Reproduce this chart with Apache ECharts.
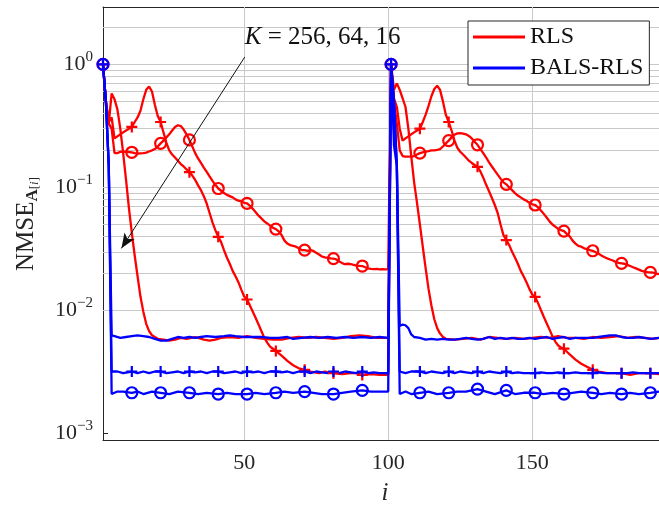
<!DOCTYPE html>
<html><head><meta charset="utf-8">
<script src="https://cdn.jsdelivr.net/npm/echarts@6/dist/echarts.min.js"></script>
<style>html,body{margin:0;padding:0;background:#fff;}#c{width:659px;height:508px;}</style>
</head><body><div id="c"></div>
<script>
// ---------------- data ----------------
const legendNames = ['RLS', 'BALS-RLS'];
const xTickValues = [50, 100, 150];
const annotationLabel = 'K = 256, 64, 16';
// arrow of the annotation, in data units: [i, NMSE]
const arrowFrom = [50.2, 1.146];
const arrowTo = [7.4, 0.032];

// RLS, K = 16 (no marker)
const rlsK16 = [[1,1.0],[2,0.5],[3,0.33],[4,0.58],[5,0.52],[6,0.43],[7,0.30],[8,0.19],[9,0.115],[10,0.068],[11,0.043],[12,0.028],[13,0.019],[14,0.013],[15,0.0098],[16,0.0078],[17,0.0068],[18,0.0063],[19,0.0061],[20,0.0059],[22,0.0058],[24,0.0057],[26,0.0058],[28,0.0060],[30,0.0059],[33,0.0061],[36,0.0058],[38,0.0057],[40,0.0058],[42,0.0060],[45,0.0061],[48,0.0060],[51,0.0062],[54,0.0060],[57,0.0059],[60,0.0058],[63,0.0058],[66,0.0060],[69,0.0061],[72,0.0060],[75,0.0061],[78,0.0060],[81,0.0059],[84,0.0060],[87,0.0062],[90,0.0063],[93,0.0062],[96,0.0060],[100,0.0060],
  [101,1.0],[102,0.62],[103,0.70],[104,0.62],[105,0.53],[106,0.45],[107,0.30],[108,0.18],[109,0.11],[110,0.075],[111,0.05],[112,0.033],[113,0.022],[114,0.015],[115,0.011],[116,0.0085],[117,0.0072],[118,0.0065],[119,0.0061],[120,0.0059],[123,0.0058],[126,0.0059],[129,0.0060],[132,0.0058],[135,0.0061],[138,0.0060],[141,0.0059],[144,0.0060],[147,0.0059],[150,0.0060],[153,0.0061],[156,0.0060],[159,0.0062],[162,0.0060],[165,0.0060],[168,0.0059],[171,0.0061],[174,0.0060],[177,0.0061],[180,0.0062],[183,0.0060],[186,0.0061],[189,0.0060],[192,0.0059],[194,0.0060]];

// RLS, K = 64 (plus marker)
const rlsK64 = [[1,1.0],[2,0.5],[3,0.34],[4,0.37],[5,0.25],[6,0.26],[7,0.27],[8,0.28],[9,0.29],[10,0.30],[11,0.31],[12,0.34],[13,0.37],[14,0.42],[15,0.52],[16,0.62],[17,0.66],[18,0.60],[19,0.47],[20,0.38],[21,0.34],[22,0.28],[23,0.23],[24,0.20],[25,0.185],[26,0.175],[27,0.165],[28,0.155],[29,0.148],[30,0.14],[31,0.133],[32,0.125],[33,0.115],[34,0.104],[35,0.095],[36,0.085],[37,0.074],[38,0.062],[39,0.052],[40,0.045],[41,0.0397],[42,0.036],[43,0.031],[44,0.027],[45,0.024],[46,0.021],[47,0.019],[48,0.017],[49,0.0148],[50,0.013],[51,0.0123],[52,0.011],[53,0.0098],[54,0.0087],[55,0.0077],[56,0.0068],[57,0.006],[58,0.0055],[59,0.0051],[60,0.0049],[61,0.0047],[63,0.0043],[65,0.0039],[67,0.0036],[69,0.0034],[71,0.0033],[73,0.0032],[76,0.0031],[78,0.0032],[81,0.0031],[84,0.00305],[87,0.0031],[89,0.0031],[91,0.0030],[94,0.00305],[97,0.0030],[100,0.0030],
  [101,1.0],[102,0.53],[103,0.45],[104,0.30],[105,0.24],[106,0.25],[107,0.26],[108,0.27],[109,0.28],[110,0.29],[111,0.30],[112,0.34],[113,0.39],[114,0.46],[115,0.55],[116,0.63],[117,0.67],[118,0.62],[119,0.50],[120,0.39],[121,0.34],[122,0.29],[123,0.24],[124,0.21],[125,0.195],[126,0.185],[127,0.175],[128,0.165],[129,0.158],[130,0.152],[131,0.147],[132,0.135],[133,0.12],[134,0.105],[135,0.093],[136,0.082],[137,0.072],[138,0.062],[139,0.05],[140,0.041],[141,0.0374],[142,0.034],[143,0.030],[144,0.027],[145,0.024],[146,0.021],[147,0.019],[148,0.017],[149,0.015],[150,0.0135],[151,0.0129],[152,0.0115],[153,0.0101],[154,0.0089],[155,0.0079],[156,0.007],[157,0.0062],[158,0.0056],[159,0.0052],[160,0.005],[161,0.0049],[163,0.0044],[165,0.004],[167,0.0037],[169,0.0035],[171,0.0033],[173,0.0032],[176,0.0031],[178,0.0031],[181,0.0031],[184,0.0030],[187,0.0031],[189,0.0031],[191,0.0031],[194,0.00305]];

// RLS, K = 256 (circle marker)
const rlsK256 = [[1,1.0],[2,0.5],[3,0.33],[4,0.30],[5,0.19],[6,0.19],[7,0.195],[8,0.195],[9,0.195],[10,0.194],[11,0.193],[12,0.19],[13,0.188],[14,0.189],[15,0.19],[16,0.192],[17,0.196],[18,0.2],[19,0.205],[20,0.215],[21,0.228],[22,0.24],[23,0.255],[24,0.27],[25,0.29],[26,0.31],[27,0.32],[28,0.315],[29,0.295],[30,0.27],[31,0.243],[32,0.215],[33,0.19],[34,0.172],[35,0.158],[36,0.145],[37,0.134],[38,0.123],[39,0.113],[40,0.105],[41,0.098],[42,0.094],[43,0.09],[44,0.087],[45,0.085],[46,0.083],[47,0.08],[48,0.078],[49,0.077],[50,0.075],[51,0.0743],[52,0.071],[53,0.067],[54,0.063],[55,0.059],[56,0.056],[57,0.053],[58,0.051],[59,0.049],[60,0.047],[61,0.0459],[62,0.044],[63,0.041],[64,0.037],[65,0.035],[66,0.034],[67,0.0335],[68,0.033],[69,0.032],[70,0.031],[71,0.031],[72,0.0305],[73,0.031],[74,0.0305],[75,0.0295],[76,0.0285],[77,0.0275],[78,0.027],[79,0.0268],[80,0.0265],[81,0.0264],[82,0.026],[83,0.025],[84,0.0243],[85,0.0238],[86,0.024],[87,0.0238],[88,0.0235],[89,0.0232],[90,0.0231],[91,0.023],[92,0.0225],[93,0.022],[94,0.0218],[95,0.0217],[96,0.0218],[97,0.0216],[98,0.0217],[99,0.0216],[100,0.0217],
  [101,1.0],[102,0.5],[103,0.33],[104,0.2],[105,0.18],[106,0.178],[107,0.178],[108,0.178],[109,0.18],[110,0.185],[111,0.19],[112,0.193],[113,0.195],[114,0.197],[115,0.2],[116,0.2],[117,0.202],[118,0.205],[119,0.215],[120,0.228],[121,0.24],[122,0.255],[123,0.268],[124,0.275],[125,0.276],[126,0.274],[127,0.27],[128,0.262],[129,0.25],[130,0.235],[131,0.222],[132,0.205],[133,0.19],[134,0.175],[135,0.16],[136,0.148],[137,0.137],[138,0.127],[139,0.118],[140,0.11],[141,0.106],[142,0.1],[143,0.095],[144,0.09],[145,0.086],[146,0.083],[147,0.08],[148,0.078],[149,0.075],[150,0.073],[151,0.072],[152,0.069],[153,0.065],[154,0.061],[155,0.057],[156,0.053],[157,0.05],[158,0.048],[159,0.046],[160,0.045],[161,0.0442],[162,0.042],[163,0.04],[164,0.037],[165,0.035],[166,0.0335],[167,0.033],[168,0.032],[169,0.0315],[170,0.031],[171,0.0306],[172,0.0298],[173,0.029],[174,0.028],[175,0.0272],[176,0.0265],[177,0.026],[178,0.0255],[179,0.0248],[180,0.0244],[181,0.0242],[182,0.024],[183,0.0235],[184,0.023],[185,0.0225],[186,0.022],[187,0.0215],[188,0.021],[189,0.0207],[190,0.0205],[191,0.0204],[192,0.0203],[193,0.02],[194,0.0198]];

// BALS-RLS, K = 16 (no marker)
const balsK16 = [[1,1.0],[2,0.5],[3,0.15],[4,0.0063],[5,0.0062],[7,0.0060],[9,0.0061],[11,0.0062],[13,0.0063],[15,0.0062],[17,0.0061],[19,0.0059],[21,0.0057],[23,0.0057],[25,0.0059],[27,0.0061],[29,0.0060],[31,0.0061],[33,0.0060],[35,0.0061],[37,0.0062],[40,0.0061],[43,0.0062],[45,0.0063],[47,0.0062],[50,0.0061],[53,0.0061],[56,0.0061],[59,0.0060],[62,0.0060],[65,0.0061],[67,0.0059],[70,0.0060],[73,0.0061],[76,0.0060],[79,0.0061],[82,0.0060],[85,0.0061],[88,0.0060],[91,0.0061],[94,0.0060],[97,0.0061],[100,0.0060],
  [101,1.0],[102,0.5],[103,0.15],[104,0.0075],[105,0.0077],[106,0.0076],[107,0.0072],[108,0.0064],[109,0.0061],[111,0.0060],[113,0.0058],[115,0.0059],[117,0.0058],[119,0.0059],[121,0.0058],[123,0.0058],[125,0.0059],[127,0.0060],[129,0.0059],[131,0.0058],[133,0.0059],[135,0.0061],[137,0.0059],[139,0.0060],[141,0.0059],[143,0.0060],[145,0.0059],[147,0.0059],[149,0.0060],[151,0.0059],[153,0.0060],[155,0.0061],[157,0.0059],[159,0.0060],[161,0.0061],[163,0.0059],[165,0.0060],[167,0.0060],[169,0.0060],[171,0.0060],[173,0.0061],[175,0.0062],[177,0.0063],[179,0.0063],[181,0.0061],[183,0.0060],[185,0.0060],[187,0.0061],[189,0.0060],[191,0.0059],[194,0.0060]];

// BALS-RLS, K = 64 (plus marker)
const balsK64 = [[1,1.0],[2,0.5],[3,0.15],[4,0.0032],[6,0.0032],[8,0.0031],[11,0.0032],[13,0.0031],[15,0.0032],[17,0.0031],[19,0.0032],[21,0.0032],[23,0.0031],[25,0.00315],[27,0.0032],[29,0.0031],[31,0.0032],[33,0.00315],[35,0.0032],[37,0.0031],[39,0.0032],[41,0.0032],[43,0.0031],[45,0.00315],[47,0.0032],[49,0.0031],[51,0.0032],[53,0.00315],[55,0.0032],[57,0.0031],[59,0.0032],[61,0.0032],[63,0.00315],[65,0.0032],[67,0.0031],[69,0.0032],[71,0.0032],[73,0.0031],[75,0.0032],[77,0.00315],[79,0.0031],[81,0.0032],[83,0.0031],[85,0.0032],[87,0.00315],[89,0.0031],[91,0.0032],[93,0.0031],[95,0.00315],[97,0.0031],[100,0.0031],
  [101,1.0],[102,0.5],[103,0.15],[104,0.0032],[106,0.0031],[108,0.0032],[111,0.0032],[113,0.0031],[115,0.0032],[117,0.00315],[119,0.0031],[121,0.0032],[123,0.0031],[125,0.0032],[127,0.00315],[129,0.0031],[131,0.0032],[133,0.0031],[135,0.0032],[137,0.00315],[139,0.0031],[141,0.0032],[143,0.0031],[145,0.00315],[147,0.0031],[149,0.0031],[151,0.0031],[153,0.00315],[155,0.0031],[157,0.0031],[159,0.00315],[161,0.0031],[163,0.0031],[165,0.00315],[167,0.0031],[169,0.0031],[171,0.0031],[173,0.00315],[175,0.0031],[177,0.0031],[179,0.0031],[181,0.0031],[183,0.0031],[185,0.00315],[187,0.0031],[189,0.0031],[191,0.0031],[194,0.0031]];

// BALS-RLS, K = 256 (circle marker)
const balsK256 = [[1,1.0],[2,0.5],[3,0.15],[4,0.0021],[6,0.0022],[8,0.0022],[11,0.00215],[13,0.0022],[15,0.0021],[18,0.0022],[21,0.00215],[24,0.0021],[27,0.0022],[31,0.00215],[34,0.0021],[37,0.00215],[41,0.0021],[44,0.00215],[47,0.0021],[51,0.0021],[54,0.00215],[57,0.0021],[61,0.00215],[64,0.0022],[67,0.00215],[71,0.0022],[74,0.00215],[77,0.0021],[81,0.0021],[84,0.00215],[87,0.0022],[91,0.00225],[94,0.0022],[97,0.0022],[100,0.0022],
  [101,1.0],[102,0.22],[103,0.15],[104,0.0021],[106,0.0022],[108,0.0021],[111,0.00215],[114,0.0022],[117,0.0021],[121,0.00215],[124,0.0022],[127,0.0022],[131,0.0023],[134,0.0022],[137,0.0021],[141,0.00225],[144,0.0021],[147,0.00215],[151,0.00215],[154,0.0021],[157,0.00215],[161,0.0021],[164,0.00215],[167,0.0022],[171,0.00215],[174,0.0021],[177,0.00215],[181,0.0021],[184,0.00215],[187,0.0021],[191,0.00215],[194,0.0022]];

// ---------------- chart ----------------
const RED = '#ff0000', BLUE = '#0000ff', INK = '#262626', GRID = '#c9c9c9';
const FONT = '"Liberation Serif", "DejaVu Serif", serif';
const X_MIN = 1, X_MAX = 194;
const Y_MIN = 8.89e-4, Y_MAX = 2.92;
const PLUS = 'path://M5,0L5,10M0,5L10,5';

function markerData(arr, sym) {
  return arr.map(function (p) {
    return { value: p, symbol: (sym && p[0] % 10 === 1) ? sym : 'none' };
  });
}
function makeSeries(name, arr, color, sym) {
  return {
    type: 'line', name: name, data: markerData(arr, sym), z: 3,
    showSymbol: true, symbolSize: 11, symbolKeepAspect: true,
    lineStyle: { color: color, width: 2.3 },
    itemStyle: { color: sym ? 'rgba(0,0,0,0)' : color, borderColor: color, borderWidth: sym ? 2.2 : 0 },
    emphasis: { disabled: true }, silent: true, animation: false
  };
}

// grid lines (major + minor decades, vertical at x ticks)
const gridLines = [];
xTickValues.forEach(function (v) { gridLines.push({ xAxis: v }); });
for (let n = -4; n <= 0; n++) {
  for (let k = 1; k <= 9; k++) {
    const v = k * Math.pow(10, n);
    if (v > Y_MIN && v < Y_MAX) gridLines.push({ yAxis: v });
  }
}

const series = [
  {
    type: 'line', name: '__grid', data: [], z: 1, silent: true, animation: false,
    markLine: { silent: true, symbol: ['none', 'none'], z: 1, animation: false,
      label: { show: false }, emphasis: { disabled: true },
      lineStyle: { color: GRID, width: 1, type: 'solid' }, data: gridLines }
  },
  makeSeries(legendNames[0], rlsK16, RED, null),
  makeSeries(legendNames[0], rlsK64, RED, PLUS),
  makeSeries(legendNames[0], rlsK256, RED, 'circle'),
  makeSeries(legendNames[1], balsK16, BLUE, null),
  makeSeries(legendNames[1], balsK64, BLUE, PLUS),
  makeSeries(legendNames[1], balsK256, BLUE, 'circle'),
  {
    type: 'line', name: '__arrow', data: [], z: 6, silent: true, animation: false,
    markLine: { silent: true, z: 6, animation: false, symbol: ['none', 'arrow'], symbolSize: [9, 15],
      label: { show: false }, emphasis: { disabled: true },
      lineStyle: { color: '#111', width: 1, type: 'solid' }, itemStyle: { color: '#111' },
      data: [[{ coord: arrowFrom }, { coord: arrowTo }]] }
  }
];

function supLabel(v) {
  const lg = Math.log10(v), e = Math.round(lg);
  if (Math.abs(lg - e) > 1e-6) return '';
  return '{b|10}{s|' + (e < 0 ? '\u2212' + (-e) : e) + '}';
}

const chart = echarts.init(document.getElementById('c'), null, { renderer: 'canvas' });
chart.setOption({
  backgroundColor: '#fff',
  animation: false,
  grid: { left: 103, right: 0, top: 7, bottom: 68, containLabel: false },
  xAxis: [{
    type: 'value', min: X_MIN, max: X_MAX, position: 'bottom',
    axisLine: { show: true, lineStyle: { color: INK, width: 1 } },
    axisTick: { show: true, inside: true, length: 5, customValues: xTickValues, lineStyle: { color: INK } },
    axisLabel: { show: true, customValues: xTickValues, margin: 12, fontFamily: FONT, fontSize: 22, color: INK },
    splitLine: { show: false }
  }, {
    type: 'value', min: X_MIN, max: X_MAX, position: 'top',
    axisLine: { show: true, lineStyle: { color: INK, width: 1 } },
    axisTick: { show: true, inside: true, length: 5, customValues: xTickValues, lineStyle: { color: INK } },
    axisLabel: { show: false }, splitLine: { show: false }
  }],
  yAxis: {
    type: 'log', logBase: 10, min: Y_MIN, max: Y_MAX,
    axisLine: { show: true, lineStyle: { color: INK, width: 1 } },
    axisTick: { show: true, inside: true, length: 5, lineStyle: { color: INK } },
    axisLabel: {
      margin: 10, formatter: supLabel,
      rich: {
        b: { fontFamily: FONT, fontSize: 22, color: INK, lineHeight: 30, verticalAlign: 'middle' },
        s: { fontFamily: FONT, fontSize: 15, color: INK, lineHeight: 15, verticalAlign: 'top' }
      }
    },
    splitLine: { show: false }, minorTick: { show: false }
  },
  legend: {
    orient: 'vertical', left: 468, top: 21, padding: [4, 6, 5, 5], itemGap: 7,
    itemWidth: 52, itemHeight: 3, icon: 'rect',
    backgroundColor: '#fff', borderColor: INK, borderWidth: 1, borderRadius: 0,
    textStyle: { fontFamily: FONT, fontSize: 24, color: '#111' },
    itemStyle: { borderWidth: 0 },
    selectedMode: false,
    data: [
      { name: legendNames[0], itemStyle: { color: RED } },
      { name: legendNames[1], itemStyle: { color: BLUE } }
    ]
  },
  series: series
});

const pFrom = chart.convertToPixel({ xAxisIndex: 0, yAxisIndex: 0 }, arrowFrom);
chart.setOption({
  graphic: [
    { type: 'text', left: pFrom[0], top: pFrom[1] - 32, silent: true, z: 10,
      style: { text: '{k|K}{n| = 256, 64, 16}', rich: {
        k: { fontFamily: FONT, fontSize: 25, fontStyle: 'italic', fill: '#111' },
        n: { fontFamily: FONT, fontSize: 25, fill: '#111' } } } },
    { type: 'text', x: 385, y: 493, silent: true,
      style: { text: 'i', fontFamily: FONT, fontSize: 25, fontStyle: 'italic', fill: INK, align: 'center', verticalAlign: 'middle' } },
    { type: 'text', x: 26, y: 224, rotation: Math.PI / 2, silent: true,
      style: { text: '{a|NMSE}{b|A}{c|[}{ci|i}{c|]}', align: 'center', verticalAlign: 'middle', rich: {
        a: { fontFamily: FONT, fontSize: 25, fill: INK, lineHeight: 30, verticalAlign: 'middle' },
        b: { fontFamily: FONT, fontSize: 17, fontWeight: 'bold', fill: INK, lineHeight: 17, verticalAlign: 'bottom' },
        c: { fontFamily: FONT, fontSize: 13, fill: INK, lineHeight: 17, verticalAlign: 'bottom' },
        ci: { fontFamily: FONT, fontSize: 13, fontStyle: 'italic', fill: INK, lineHeight: 17, verticalAlign: 'bottom' } } } }
  ]
});
</script></body></html>
